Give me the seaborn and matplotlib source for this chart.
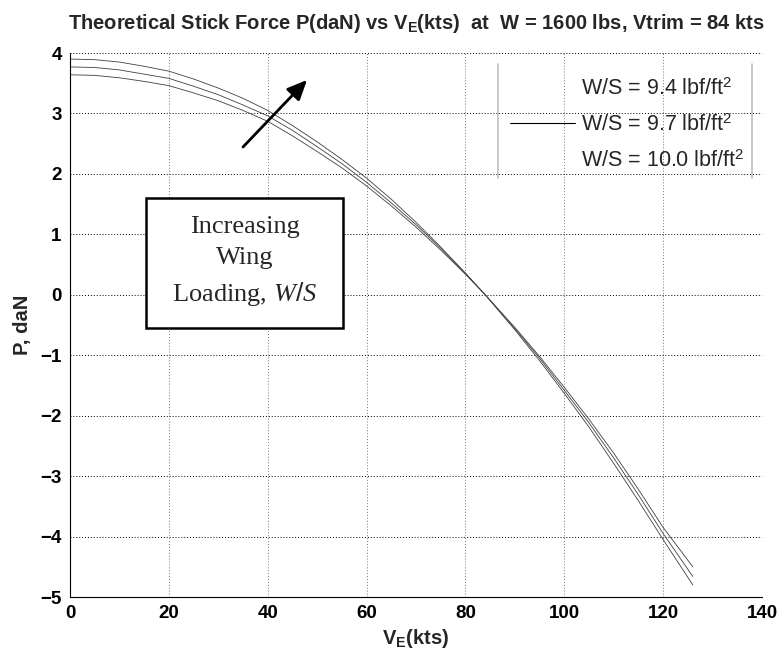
import numpy as np
import pandas as pd
import matplotlib
matplotlib.use("Agg")
import matplotlib.pyplot as plt
import seaborn as sns
from matplotlib.lines import Line2D
from matplotlib.patches import Rectangle

# ---- data ----
speed_kts = [0, 5, 10, 15, 20, 25, 30, 35, 40, 45, 50, 55, 60, 65, 70, 75, 80, 84,
             90, 95, 100, 105, 110, 115, 120, 126]
p_ws_94 = [3.64, 3.63, 3.59, 3.53, 3.46, 3.34, 3.21, 3.05, 2.87, 2.63, 2.37, 2.10, 1.80,
           1.47, 1.12, 0.74, 0.34, 0.0, -0.54, -1.02, -1.53, -2.06, -2.62, -3.22, -3.85, -4.50]
p_ws_97 = [3.77, 3.76, 3.72, 3.65, 3.58, 3.45, 3.31, 3.14, 2.96, 2.72, 2.45, 2.17, 1.86,
           1.52, 1.16, 0.77, 0.35, 0.0, -0.56, -1.05, -1.58, -2.12, -2.70, -3.31, -3.95, -4.66]
p_ws_100 = [3.90, 3.89, 3.85, 3.78, 3.70, 3.57, 3.42, 3.25, 3.05, 2.80, 2.53, 2.24, 1.93,
            1.58, 1.20, 0.79, 0.36, 0.0, -0.58, -1.09, -1.63, -2.19, -2.79, -3.41, -4.05, -4.80]
series_labels = [r"W/S = 9.4 lbf/ft$^\mathregular{2}$",
                 r"W/S = 9.7 lbf/ft$^\mathregular{2}$",
                 r"W/S = 10.0 lbf/ft$^\mathregular{2}$"]
x_ticks = [0, 20, 40, 60, 80, 100, 120, 140]
y_ticks = [-5, -4, -3, -2, -1, 0, 1, 2, 3, 4]

n = len(speed_kts)
df = pd.DataFrame({
    "V": speed_kts * 3,
    "P": p_ws_94 + p_ws_97 + p_ws_100,
    "WS": [series_labels[0]] * n + [series_labels[1]] * n + [series_labels[2]] * n,
})

sns.set_theme(style="white")
plt.rcParams["font.family"] = ["Liberation Sans", "DejaVu Sans"]
plt.rcParams["mathtext.fontset"] = "custom"
plt.rcParams["mathtext.rm"] = "Liberation Sans"
plt.rcParams["mathtext.bf"] = "Liberation Sans:bold"
plt.rcParams["mathtext.it"] = "Liberation Serif:italic"

fig = plt.figure(figsize=(7.82, 6.60), dpi=100)
ax = fig.add_axes([70 / 782, 63 / 660, 692 / 782, 544 / 660])

sns.lineplot(data=df, x="V", y="P", hue="WS", palette=["0.25", "0.25", "0.25"],
             linewidth=0.6, legend=False, ax=ax, sort=False)

ax.set_xlim(0, 140)
ax.set_ylim(-5, 4)
ax.set_xticks(x_ticks)
ax.set_yticks(y_ticks)
ax.tick_params(axis="both", direction="in", length=4, labelsize=13.5, colors="black",
               pad=6, width=0.6)
for t in ax.get_xticklabels() + ax.get_yticklabels():
    t.set_color("black")
    t.set_fontweight("bold")
ax.xaxis.grid(True, color="0.45", linestyle=(0, (1, 2)), linewidth=0.7)
ax.yaxis.grid(True, color="black", linestyle=(0, (1, 2)), linewidth=0.7)

for s in ["top", "right"]:
    ax.spines[s].set_visible(False)
for s in ["left", "bottom"]:
    ax.spines[s].set_color("black")
    ax.spines[s].set_linewidth(0.8)

ax.set_xlabel(r"V$_\mathbf{E}$(kts)", fontsize=14.5, fontweight="bold", labelpad=3)
ax.set_ylabel("P, daN", fontsize=14.5, fontweight="bold", labelpad=6)
ax.set_title(r"Theoretical Stick Force P(daN) vs V$_\mathbf{E}$(kts)  at  W = 1600 lbs, Vtrim = 84 kts",
             fontsize=14.5, fontweight="bold", pad=17)

# legend
handles = [Line2D([], [], color="none"),
           Line2D([], [], color="black", linewidth=0.8),
           Line2D([], [], color="none")]
leg = ax.legend(handles, series_labels, loc="upper right", bbox_to_anchor=(1.0, 0.985),
                frameon=False, fontsize=15.5, handlelength=3.0, handletextpad=0.3,
                labelspacing=0.68, borderpad=0.3)
for xf in [(498 - 70) / 692, (752 - 70) / 692]:
    ax.add_line(Line2D([xf, xf], [(597 - 64) / 544, (597 - 178) / 544],
                       transform=ax.transAxes, color="0.75", linewidth=1.2))

# annotation box
ax.add_patch(Rectangle(((146 - 70) / 692, (597 - 328) / 544), 197 / 692, 130 / 544,
                       transform=ax.transAxes, facecolor="white", edgecolor="black",
                       linewidth=1.8, zorder=5))
ax.text(((146 + 343) / 2 - 70) / 692, (597 - 262) / 544,
        "Increasing\nWing\nLoading, $\\mathit{W/S}$",
        transform=ax.transAxes, ha="center", va="center", fontsize=19,
        family="Liberation Serif", linespacing=1.5, zorder=6)

# arrow
ax.annotate("", xy=((307 - 70) / 692, (597 - 80) / 544),
            xytext=((243 - 70) / 692, (597 - 147) / 544),
            xycoords="axes fraction", textcoords="axes fraction",
            arrowprops=dict(arrowstyle="-|>,head_length=1.0,head_width=0.45",
                            color="black", linewidth=2, shrinkA=0, shrinkB=0))

fig.savefig("out.png", dpi=100)
